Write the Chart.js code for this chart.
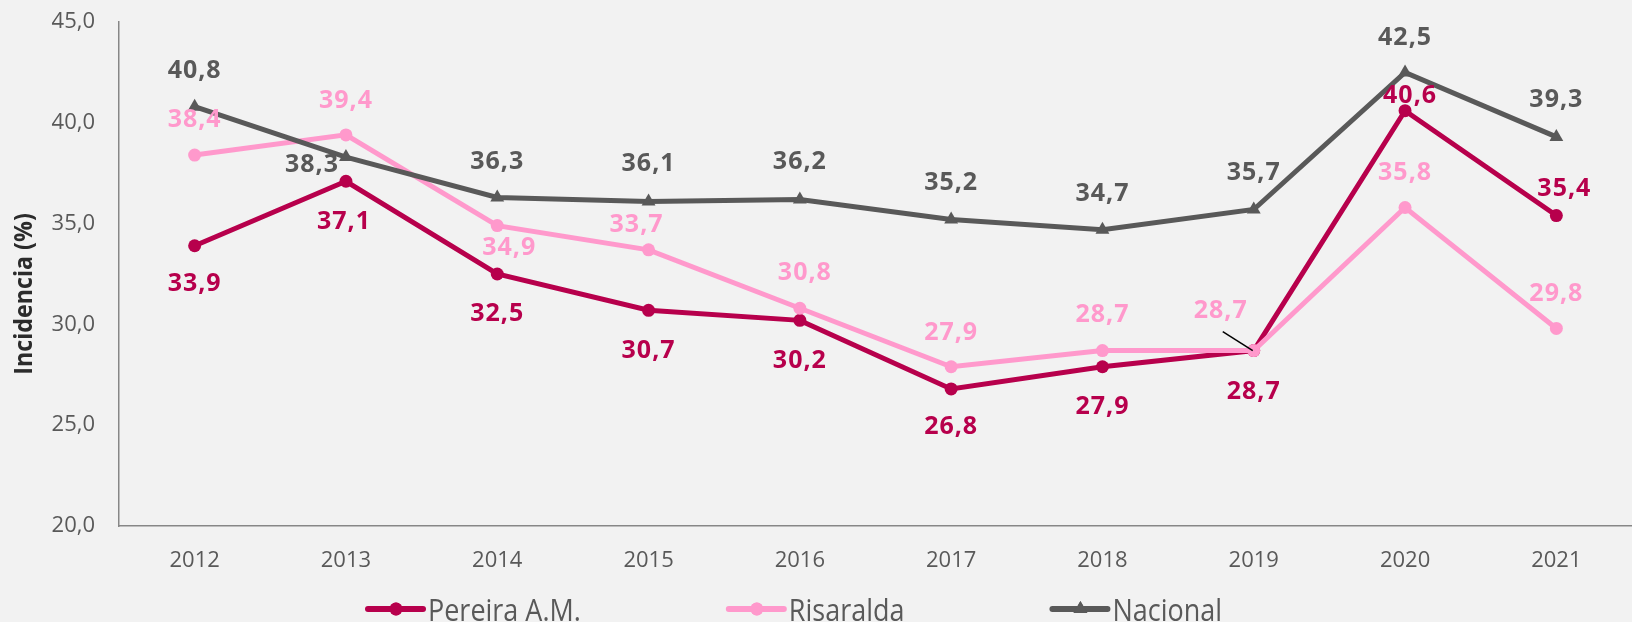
<!DOCTYPE html>
<html lang="es">
<head>
    <meta charset="UTF-8">
    <title>Incidencia</title>
    <script src="https://cdn.jsdelivr.net/npm/chart.js"></script>
    <style>
        html, body {
            margin: 0;
            padding: 0;
            background: #F2F2F2;
            overflow: hidden;
        }
        #wrap {
            width: 1640px;
            height: 622px;
        }
    </style>
</head>
<body>
    <div id="wrap"><canvas id="chart"></canvas></div>

    <script>
        const years = ["2012", "2013", "2014", "2015", "2016", "2017", "2018", "2019", "2020", "2021"];
        const pereira = [33.9, 37.1, 32.5, 30.7, 30.2, 26.8, 27.9, 28.7, 40.6, 35.4];
        const risaralda = [38.4, 39.4, 34.9, 33.7, 30.8, 27.9, 28.7, 28.7, 35.8, 29.8];
        const nacional = [40.8, 38.3, 36.3, 36.1, 36.2, 35.2, 34.7, 35.7, 42.5, 39.3];
        const yTicks = [20, 25, 30, 35, 40, 45];

        // where each value label sits relative to its point [dx, dy]
        const labelOffsets = [
            [[0, 38], [-2, 41], [0, 40], [0, 41], [0, 41], [0, 38], [0, 40], [0, 41], [5, -15], [8, -27]],
            [[0, -35], [0, -34], [12, 22], [-12, -25], [5, -35], [0, -34], [0, -36], [-33, -40], [0, -35], [0, -35]],
            [[0, -36], [-34, 8], [0, -36], [0, -38], [0, -38], [0, -37], [0, -36], [0, -37], [0, -35], [0, -37]]
        ];

        const fmt = v => v.toFixed(1).replace(".", ",");

        const valueLabels = {
            id: "valueLabels",
            afterDatasetsDraw(chart) {
                const ctx = chart.ctx;
                ctx.save();
                ctx.font = "bold 25px 'Open Sans'";
                ctx.letterSpacing = "1px";
                ctx.textAlign = "center";
                ctx.textBaseline = "middle";
                chart.data.datasets.forEach((ds, i) => {
                    const meta = chart.getDatasetMeta(i);
                    meta.data.forEach((pt, j) => {
                        const [dx, dy] = labelOffsets[i][j];
                        const lx = pt.x + dx, ly = pt.y + dy;
                        // leader line when the label is pushed away diagonally
                        if (Math.abs(dx) > 20 && dy < -30) {
                            ctx.strokeStyle = "#000000";
                            ctx.lineWidth = 1.5;
                            ctx.beginPath();
                            ctx.moveTo(lx + 2, ly + 21);
                            ctx.lineTo(pt.x - 1, pt.y);
                            ctx.stroke();
                        }
                        ctx.fillStyle = ds.borderColor;
                        ctx.fillText(fmt(ds.data[j]), lx, ly);
                    });
                });
                ctx.restore();
            }
        };

        const sideParts = {
            id: "sideParts",
            afterDraw(chart) {
                const ctx = chart.ctx;
                ctx.save();

                // y axis title
                ctx.translate(25, 294);
                ctx.rotate(-Math.PI / 2);
                ctx.scale(0.93, 1);
                ctx.font = "bold 25px 'Open Sans'";
                ctx.fillStyle = "#2B2B2B";
                ctx.textAlign = "center";
                ctx.textBaseline = "middle";
                ctx.fillText("Incidencia (%)", 0, 0);
                ctx.restore();

                // legend
                ctx.save();
                let x = 368;
                const y = 609;
                chart.data.datasets.forEach(ds => {
                    ctx.strokeStyle = ds.borderColor;
                    ctx.fillStyle = ds.borderColor;
                    ctx.lineWidth = 6;
                    ctx.lineCap = "round";
                    ctx.beginPath();
                    ctx.moveTo(x, y);
                    ctx.lineTo(x + 55, y);
                    ctx.stroke();
                    Chart.helpers.drawPoint(ctx, {
                        pointStyle: ds.pointStyle,
                        radius: ds.pointRadius,
                        borderWidth: 0
                    }, x + 28, y);
                    ctx.fill();

                    ctx.save();
                    ctx.translate(x + 60, 621);
                    ctx.scale(0.87, 1);
                    ctx.font = "31px 'Open Sans'";
                    ctx.fillStyle = "#595959";
                    ctx.textBaseline = "alphabetic";
                    ctx.fillText(ds.label, 0, 0);
                    const w = ctx.measureText(ds.label).width * 0.87;
                    ctx.restore();
                    x += 60 + w + 148;
                });
                ctx.restore();
            }
        };

        new Chart(document.getElementById("chart"), {
            type: "line",
            data: {
                labels: years,
                datasets: [
                    {
                        label: "Pereira A.M.",
                        data: pereira,
                        borderColor: "#B7004C",
                        backgroundColor: "#B7004C",
                        borderWidth: 5,
                        pointStyle: "circle",
                        pointRadius: 6.5,
                        pointBorderWidth: 0,
                        order: 3
                    },
                    {
                        label: "Risaralda",
                        data: risaralda,
                        borderColor: "#FF99CC",
                        backgroundColor: "#FF99CC",
                        borderWidth: 5,
                        pointStyle: "circle",
                        pointRadius: 6.5,
                        pointBorderWidth: 0,
                        order: 2
                    },
                    {
                        label: "Nacional",
                        data: nacional,
                        borderColor: "#595959",
                        backgroundColor: "#595959",
                        borderWidth: 5,
                        pointStyle: "triangle",
                        pointRadius: 8,
                        pointBorderWidth: 0,
                        order: 1
                    }
                ]
            },
            options: {
                responsive: true,
                maintainAspectRatio: false,
                animation: false,
                layout: {
                    padding: { top: 22, left: 0, right: 0, bottom: 0 }
                },
                plugins: {
                    legend: { display: false },
                    tooltip: { enabled: false }
                },
                scales: {
                    x: {
                        offset: true,
                        grid: { display: false },
                        border: { display: true, color: "#878787", width: 1.5 },
                        ticks: {
                            color: "#595959",
                            font: { family: "'Open Sans'", size: 22 },
                            padding: 14,
                            maxRotation: 0
                        },
                        afterFit(scale) { scale.height = 96; }
                    },
                    y: {
                        min: 20,
                        max: 45,
                        grid: { display: false },
                        border: { display: true, color: "#878787", width: 1.5 },
                        afterBuildTicks(scale) {
                            scale.ticks = yTicks.map(v => ({ value: v }));
                        },
                        ticks: {
                            color: "#595959",
                            font: { family: "'Open Sans'", size: 22 },
                            padding: 16,
                            callback: v => fmt(v)
                        },
                        afterFit(scale) {
                            scale.width = 119;
                            scale.paddingTop = 0;
                            scale.paddingBottom = 0;
                        }
                    }
                }
            },
            plugins: [valueLabels, sideParts]
        });
    </script>
</body>
</html>
